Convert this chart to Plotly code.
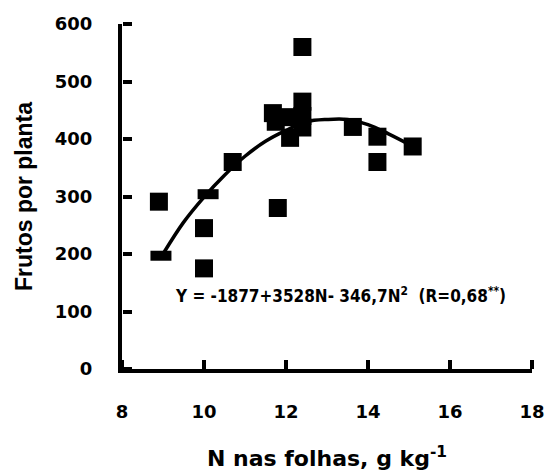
import plotly.graph_objects as go

# Observed points (N in leaves, fruits per plant)
n_leaf = [8.9, 10.0, 10.0, 10.7, 11.8, 11.68, 11.75, 12.0, 12.1, 12.4, 12.4, 12.4, 12.4, 13.63, 14.23, 14.23, 15.09]
fruits = [291, 245, 175, 360, 280, 445, 430, 438, 402, 560, 465, 440, 420, 421, 404, 360, 387]

# Partially visible points sitting on the fitted curve
n_partial = [8.95, 10.1]
fruits_partial = [197, 304]

# Fitted curve
curve_n = [9.0, 9.5, 10.0, 10.5, 11.0, 11.5, 12.0, 12.5, 13.0, 13.5, 14.0, 14.5, 15.1]
curve_y = [200, 255, 299, 337, 370, 396, 415, 430, 434, 434, 425, 409, 387]

x_ticks = [8, 10, 12, 14, 16, 18]
y_ticks = [0, 100, 200, 300, 400, 500, 600]
x_range = [8, 18]
y_range = [0, 600]

equation = "<b>Y = -1877+3528N- 346,7N<sup>2</sup>  (R=0,68<sup>**</sup>)</b>"

fig = go.Figure()
fig.add_trace(go.Scatter(
    x=n_leaf, y=fruits, mode="markers",
    marker=dict(symbol="square", size=18, color="black"),
    showlegend=False, cliponaxis=False))
fig.add_trace(go.Scatter(
    x=n_partial, y=fruits_partial, mode="markers",
    marker=dict(symbol="line-ew", size=15, line=dict(width=10, color="black")),
    showlegend=False, cliponaxis=False))
fig.add_trace(go.Scatter(
    x=curve_n, y=curve_y, mode="lines", line=dict(color="black", width=3.5, shape="spline"),
    showlegend=False))
# empty trace that hosts the overlay axes carrying the inward tick marks
fig.add_trace(go.Scatter(x=[], y=[], xaxis="x2", yaxis="y2", showlegend=False, hoverinfo="skip"))

fig.add_annotation(x=13.32, y=129, xref="x", yref="y", text=equation, showarrow=False,
                   font=dict(family="DejaVu Sans Condensed", size=17, color="black"))

main_axis = dict(showgrid=False, zeroline=False, showline=True, linecolor="black", linewidth=4,
                 ticks="", automargin=False)
tick_axis = dict(showgrid=False, zeroline=False, showline=False, showticklabels=False,
                 ticks="outside", ticklen=9, tickwidth=4, tickcolor="black",
                 anchor="free", position=0, automargin=False)

fig.update_layout(
    width=548, height=471,
    margin=dict(l=122, r=16, t=24, b=102),
    paper_bgcolor="white", plot_bgcolor="white",
    xaxis=dict(range=x_range, tickvals=x_ticks, ticktext=["<b>%d</b>" % v for v in x_ticks],
               ticklabelstandoff=23,
               tickfont=dict(family="DejaVu Sans", size=18, color="black"),
               title=dict(text="<b>N nas folhas, g kg<sup>-1</sup></b>", standoff=31,
                          font=dict(family="DejaVu Sans", size=22, color="black")),
               **main_axis),
    yaxis=dict(range=y_range, tickvals=y_ticks, ticktext=["<b>%d</b>" % v for v in y_ticks],
               ticklabelstandoff=22,
               tickfont=dict(family="DejaVu Sans", size=18, color="black"),
               title=dict(text="<b>Frutos por planta</b>", standoff=17,
                          font=dict(family="Liberation Sans", size=23, color="black")),
               **main_axis),
    xaxis2=dict(overlaying="x", side="top", range=x_range, tickvals=x_ticks, **tick_axis),
    yaxis2=dict(overlaying="y", side="right", range=y_range, tickvals=y_ticks, **tick_axis),
)

fig.write_html("out.html", config={"displayModeBar": False},
               post_script="document.body.style.margin='0';")
